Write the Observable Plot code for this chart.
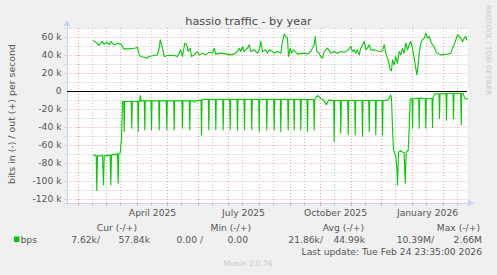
<!DOCTYPE html>
<html><head><meta charset="utf-8">
<script src="https://cdn.jsdelivr.net/npm/d3@7"></script>
<script src="https://cdn.jsdelivr.net/npm/@observablehq/plot@0.6"></script>
<style>
html,body{margin:0;padding:0;background:#f0f0f0;}
#chart{width:497px;height:275px;overflow:hidden;}
</style></head><body><div id="chart"></div>
<script>
// ---- data (values in thousands of bits per second, days since graph start) ----
const graphStart = Date.UTC(2025, 0, 20, 23, 35);
const graphEnd = Date.UTC(2026, 1, 24, 23, 35);
const title = "hassio traffic - by year";
const yAxisLabel = "bits in (-) / out (+) per second";
const yMajorTicks = [60, 40, 20, 0, -20, -40, -60, -80, -100, -120];
const yMinorTicks = [70, 50, 30, 10, -10, -30, -50, -70, -90, -110];
const xLabelDates = ["2025-04-16", "2025-07-16", "2025-10-16", "2026-01-16"];
const xLabels = ["April 2025", "July 2025", "October 2025", "January 2026"];
const monthStarts = ["2025-02-01","2025-03-01","2025-04-01","2025-05-01","2025-06-01","2025-07-01","2025-08-01","2025-09-01","2025-10-01","2025-11-01","2025-12-01","2026-01-01","2026-02-01"];
const midMonths = ["2025-02-15","2025-03-15","2025-04-15","2025-05-15","2025-06-15","2025-07-15","2025-08-15","2025-09-15","2025-10-15","2025-11-15","2025-12-15","2026-01-15","2026-02-15"];

// out (+) series: [day, k]
const outPoints = [
[26,56.3],[28.3,54.8],[31.7,51.1],[33.3,53.7],[35,55.6],[36.7,52.6],[39.3,54.8],[41.7,51.9],[43.3,55.6],[46.7,51.9],[50,53.3],[53.3,52.6],[55,50],[56,47.4],[61.7,47.4],[66.7,48.1],[70,48.9],[71.7,40.7],[73.3,38.9],[76.7,38.1],[80,37],[81.7,38.9],[86.7,40],[90,40.7],[91.7,48.1],[92.7,57.4],[95,48.1],[96.7,38.9],[100,40],[106.7,40],[110,38.9],[113.3,46.3],[115,38.9],[117.3,53.7],[119.3,51.9],[120.7,44.4],[122.7,48.1],[124,38.9],[126.7,40.7],[130,44.4],[131.7,40.7],[135,42.6],[138.3,40.7],[141.7,43.7],[145,42.6],[146.7,48.1],[148.3,41.5],[153.3,42.6],[160,41.5],[163.3,40.7],[166.7,41.5],[170,44.4],[171.7,48.1],[173.3,44.4],[175,50],[176.7,44.4],[180,48.1],[181.7,51.9],[183.3,44.4],[186.7,46.3],[190,42.6],[191.7,46.3],[193.3,55.6],[195,44.4],[198.3,46.3],[200,42.6],[201.7,46.3],[205,44.4],[206.7,42.6],[210,44.4],[213.3,42.6],[215,55.6],[216.7,63.7],[218.3,61.1],[220,59.3],[221,38.9],[222.7,48.1],[224,42.6],[226,46.3],[228.3,43.7],[230,41.5],[236.7,42.6],[240,41.5],[243.3,44.4],[246.7,51.9],[247.7,61.1],[249.3,44.4],[251.7,42.6],[253.3,38.9],[255,37],[256.7,44.4],[260,48.1],[263.3,42.6],[266.7,44.4],[270,42.6],[273.3,44.4],[276.7,43.7],[280,45.2],[283.3,50],[285,44.4],[286.7,46.3],[288.3,42.6],[290,46.3],[291.7,40.7],[293.3,48.1],[295,51.9],[296.7,55.6],[298.3,46.3],[300,48.1],[301.7,51.9],[303.3,46.3],[306.7,46.3],[311.7,44.4],[315,45.2],[316.7,51.9],[318.3,42.6],[320.7,35.2],[322.7,24.1],[324,23],[325,35.2],[326.7,29.6],[328.3,38.9],[330,31.5],[331.7,44.4],[333.3,40.7],[335,48.1],[336.7,42.6],[338.3,53.7],[340,46.3],[341.7,51.9],[343.3,55.6],[345,48.1],[346.7,37],[348.3,25.9],[349.3,18.5],[350.7,29.6],[351.7,42.6],[353.3,53.7],[355,57.4],[356.7,59.3],[358.3,64.8],[360,59.3],[361.7,61.1],[363.3,55.6],[365,51.9],[366.7,50],[368.3,44.4],[370,42.6],[373.3,40.7],[380,41.5],[383.3,42.6],[385,48.1],[386.7,51.9],[388.3,57.4],[390,63],[391.7,61.1],[393.3,59.3],[395,55.6],[396.7,59.3],[398.3,61.1],[399.3,57.4]
];

// in (-) series: [day, k]
const inPoints = [
[26,-70.4],[27.3,-71.5],[28.7,-70.8],[29.3,-110],[30,-71.5],[33.3,-71.5],[35,-70.4],[36,-103.7],[36.7,-71.5],[39.3,-71],[40.7,-71.2],[42.7,-70.4],[43.3,-103.7],[44,-70.4],[46.7,-69.6],[48.3,-70.4],[50,-68.9],[50.7,-101.9],[51.3,-69.6],[52.7,-68.5],[54,-51.9],[55,-11.1],
[56.2,-11.1],[56.7,-44.4],[57.2,-11.1],
[63.8,-11.1],[64.3,-40.7],[64.8,-11.1],
[70.2,-11.1],[70.7,-44.4],[71.2,-11.1],
[72.2,-11.1],[72.7,-4.4],[73.5,-10.4],
[76.8,-10.4],[77.3,-42.6],[77.8,-10.4],
[83.5,-10.4],[84,-42.6],[84.5,-10.4],
[91.2,-10.4],[91.7,-42.6],[92.2,-10.4],
[98.8,-10.4],[99.3,-42.6],[99.8,-10.4],
[106.2,-10.4],[106.7,-42.6],[107.2,-10.4],
[114.5,-10.4],[115,-40.7],[115.5,-10.4],
[121.8,-10.4],[122.3,-42.6],[122.8,-10.4],
[126,-10.4],[127,-11.8],[128,-10.4],
[133.5,-9.6],[134,-48.1],[134.5,-8.9],
[140.8,-8.9],[141.3,-42.6],[141.8,-8.9],
[147.8,-8.9],[148.3,-42.6],[148.8,-8.9],
[155.2,-8.9],[155.7,-42.6],[156.2,-8.9],
[162.2,-8.9],[162.7,-42.6],[163.2,-8.9],
[169.5,-8.9],[170,-42.6],[170.5,-8.9],
[176.5,-8.9],[177,-42.6],[177.5,-8.9],
[183.8,-8.9],[184.3,-42.6],[184.8,-8.9],
[191.2,-8.9],[191.7,-44.4],[192.2,-8.9],
[198.8,-8.9],[199.3,-42.6],[199.8,-8.9],
[206.2,-8.9],[206.7,-42.6],[207.2,-8.9],
[212.8,-8.9],[213.3,-44.4],[213.8,-8.9],
[220.2,-8.9],[220.7,-42.6],[221.2,-8.9],
[226.2,-8.9],[226.7,-42.6],[227.2,-8.9],
[232.8,-8.9],[233.3,-42.6],[233.8,-8.9],
[239.5,-8.9],[240,-44.4],[240.5,-8.9],
[246.2,-8.9],[246.7,-42.6],[247.2,-8.9],
[250,-4.4],[252,-6.3],[253.3,-7.8],[256,-9.3],[259,-14.8],[261,-9.6],
[266.2,-10],[266.7,-55.6],[267.2,-10],
[272.8,-10],[273.3,-46.3],[273.8,-10],
[280.2,-10],[280.7,-48.1],[281.2,-10],
[287.2,-10],[287.7,-48.1],[288.2,-10],
[294.5,-10],[295,-50],[295.5,-10],
[301.2,-10],[301.7,-44.4],[302.2,-10],
[307.8,-10],[308.3,-48.1],[308.8,-10],
[314.5,-10],[315,-48.1],[315.5,-10],
[320,-9.6],[322,-7.4],[323,-3.7],[324,-7.4],[325,-40.7],[326,-64.8],[328.3,-72.2],[329.3,-85],[330,-103.7],[331,-67.4],[333.3,-65.6],[335,-67.4],[336.7,-68.1],[337.7,-101.9],[338.7,-67.4],[340.7,-65.6],[341.7,-40.7],[342.7,-8.1],
[344.5,-8.1],[345,-40.7],[345.5,-8.1],
[351.2,-7.4],[351.7,-40.7],[352.2,-7.4],
[357.8,-7.8],[358.3,-40.7],[358.8,-7.8],
[364.5,-7.8],[365,-40],[365.5,-7.4],
[367,-2.6],
[371.5,-2.6],[372,-30],[372.5,-2.6],
[378.5,-2.2],[379,-32],[379.5,-2.2],
[385.5,-2.2],[386,-30],[386.5,-2.2],
[393.2,-2.2],[393.7,-37],[394.2,-2.2],
[396,-2.6],[397,-7.4],[398.5,-8.5],[400,-8.1]
];

const legendHeaders = ["Cur (-/+)", "Min (-/+)", "Avg (-/+)", "Max (-/+)"];
const legendName = "bps";
const legendValues = ["7.62k/", "57.84k", "0.00 /", "0.00", "21.86k/", "44.99k", "10.39M/", "2.66M"];
const lastUpdate = "Last update: Tue Feb 24 23:35:00 2026";
const footer = "Munin 2.0.76";
const sideText = "RRDTOOL / TOBI OETIKER";

// ---- build ----
const DAY = 864e5;
const toDate = d => new Date(graphStart + d * DAY);
const series = [
  ...outPoints.map(([d, v]) => ({date: toDate(d), v, s: "out"})),
  ...inPoints.map(([d, v]) => ({date: toDate(d), v, s: "in"}))
];
const d0 = new Date(graphStart), d1 = new Date(graphEnd);
const yBottom = -124.44, yTop = 70;
const pxPerK = 175 / (yTop - yBottom);
const below = px => yBottom - px / pxPerK;
const above = px => yTop + px / pxPerK;
const pd = s => new Date(s + "T00:00:00Z");

const GREEN = "#00cc00", TXT = "#555555", MGRID = "#eea0a0", GRID = "#c4c4c4", AXIS = "#c8d0f4";
const FS = 9.2;

const svg = Plot.plot({
  width: 497, height: 275,
  marginLeft: 67, marginRight: 30, marginTop: 28, marginBottom: 72,
  x: {type: "utc", domain: [d0, d1], axis: null},
  y: {domain: [yBottom, yTop], axis: null},
  style: {background: "#f0f0f0", fontFamily: "DejaVu Sans", fontSize: "9px", color: TXT, overflow: "visible"},
  marks: [
    Plot.frame({fill: "white"}),
    // horizontal grid
    Plot.ruleY(yMinorTicks, {stroke: GRID, strokeDasharray: "1,2", x1: () => toDate(-2.5), x2: () => d1, clip: false}),
    Plot.ruleY(yMajorTicks.filter(v => v !== 0), {stroke: MGRID, strokeDasharray: "1,2", x1: () => toDate(-2.5), x2: () => d1, clip: false}),
    // vertical grid
    Plot.ruleX(midMonths.map(pd), {stroke: GRID, strokeDasharray: "1,2", y1: yBottom, y2: yTop}),
    Plot.ruleX(monthStarts.map(pd), {stroke: MGRID, strokeDasharray: "1,2", y1: yBottom, y2: yTop}),
    // tick marks below x axis
    Plot.ruleX(midMonths.map(pd), {stroke: GRID, y1: yBottom, y2: below(3), clip: false}),
    Plot.ruleX(monthStarts.map(pd), {stroke: MGRID, y1: yBottom, y2: below(3), clip: false}),
    // axes
    Plot.ruleY([yBottom], {stroke: AXIS, x1: () => toDate(-3), x2: () => toDate(401.5), clip: false}),
    Plot.ruleX([d0], {stroke: AXIS, y1: () => below(3), y2: () => above(3), clip: false}),
    // data
    Plot.line(series, {x: "date", y: "v", z: "s", stroke: GREEN, strokeWidth: 1.1, curve: "linear"}),
    // zero line
    Plot.ruleY([0], {stroke: "#000"}),
    // y tick labels
    Plot.text(yMajorTicks, {y: d => d, text: d => d === 0 ? "0" : `${d} k`, frameAnchor: "left", textAnchor: "end", dx: -6, fill: TXT, fontSize: FS}),
    // x labels
    Plot.text(xLabelDates, {x: d => pd(d), text: (d, i) => xLabels[i], frameAnchor: "bottom", dy: 10, lineAnchor: "middle", fill: TXT, fontSize: FS})
  ]
});

const g = d3.select(svg).append("g");
// axis arrows
g.append("path").attr("d", "M63.5,26 L70.5,26 L67,20 Z").attr("fill", AXIS);
g.append("path").attr("d", "M468,199.5 L468,206.5 L474,203 Z").attr("fill", AXIS);

function txt(x, y, s, opt = {}) {
  const t = g.append("text").attr("x", x).attr("y", y).text(s)
    .attr("fill", opt.fill || TXT)
    .attr("font-size", opt.size || FS)
    .attr("text-anchor", opt.anchor || "start")
    .attr("dominant-baseline", "central")
    .attr("font-family", "DejaVu Sans");
  if (opt.transform) t.attr("transform", opt.transform);
  return t;
}
txt(248.5, 21, title, {size: 11.3, anchor: "middle", fill: "#4a4a4a"});
txt(0, 0, yAxisLabel, {anchor: "middle", size: 9.4, transform: "translate(11,114) rotate(-90)"});
txt(0, 0, sideText, {anchor: "start", size: 7, fill: "#c8c8c8", transform: "translate(487.5,5) rotate(90)"});

const headerRight = [137, 251, 364, 480];
legendHeaders.forEach((h, i) => txt(headerRight[i], 227, h, {anchor: "end"}));
g.append("rect").attr("x", 14).attr("y", 236.5).attr("width", 5.5).attr("height", 5.5).attr("fill", GREEN);
txt(20.5, 239.5, legendName);
const valueRight = [100, 150, 203, 248, 323, 365, 434, 482];
legendValues.forEach((v, i) => txt(valueRight[i], 239.5, v, {anchor: "end"}));
txt(482, 251, lastUpdate, {anchor: "end"});
txt(248, 263, footer, {anchor: "middle", size: 7.5, fill: "#c8c8c8"});

document.getElementById("chart").append(svg);
</script></body></html>
